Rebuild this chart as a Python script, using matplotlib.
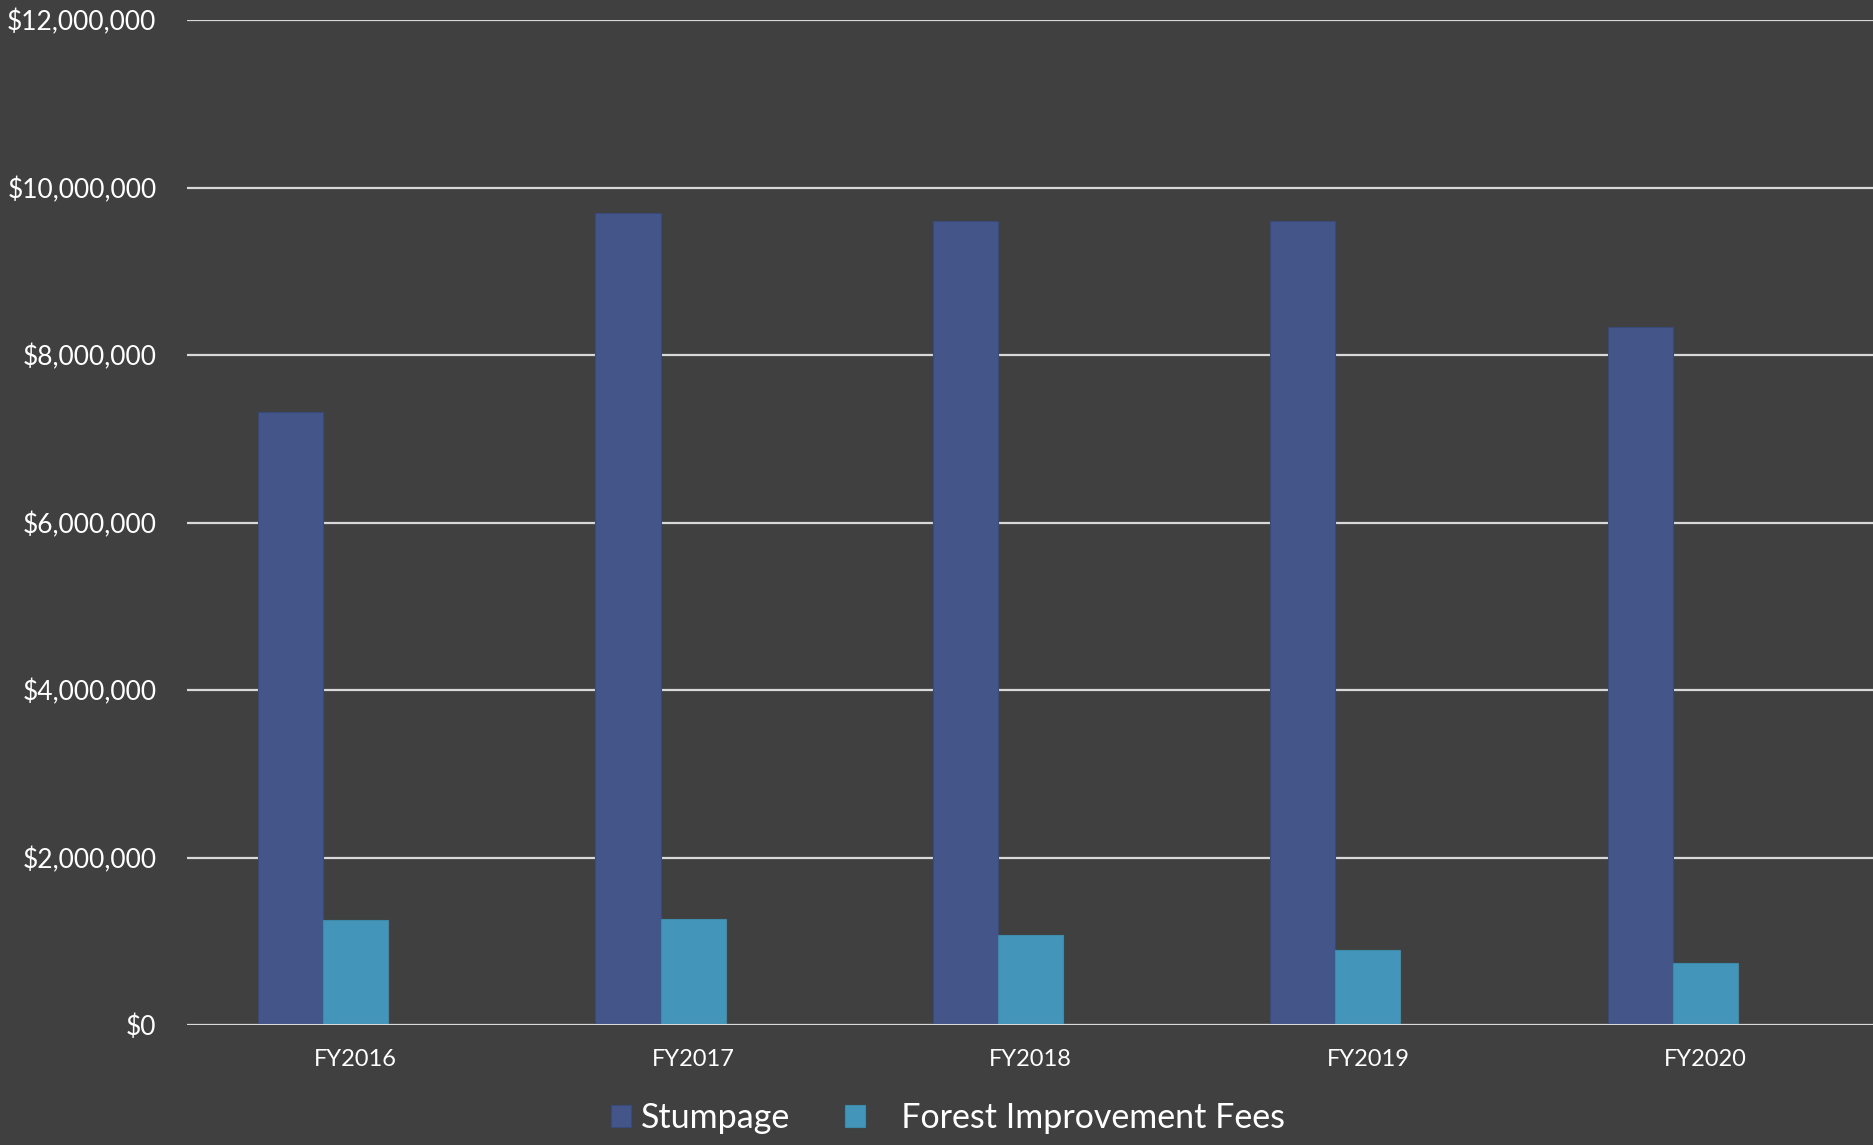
import numpy as np
import matplotlib
matplotlib.use("Agg")
import matplotlib.pyplot as plt
from matplotlib.ticker import FuncFormatter

years = ["FY2016", "FY2017", "FY2018", "FY2019", "FY2020"]
stumpage = [7320000, 9690000, 9600000, 9600000, 8330000]
fif = [1250000, 1270000, 1080000, 900000, 740000]

bg = "#404040"
c_stump = "#435589"
c_fif = "#4395B9"

plt.rcParams['font.family'] = ['Lato', 'DejaVu Sans']

fig = plt.figure(figsize=(18.74, 11.45), dpi=100, facecolor=bg)
ax = fig.add_axes([187 / 1874, 1 - 1025 / 1145, 1 - 187 / 1874, (1025 - 20) / 1145])
ax.set_facecolor(bg)

x = np.arange(len(years))
w = 0.193
ax.bar(x - w, stumpage, w, color=c_stump, edgecolor="#3a4a78", linewidth=0.8, label="Stumpage", zorder=3)
ax.bar(x, fif, w, color=c_fif, edgecolor="#3d8aaa", linewidth=0.8, label="   Forest Improvement Fees", zorder=3)

ax.set_xlim(-0.5, len(years) - 0.5)
ax.set_ylim(0, 12000000)
ax.set_yticks(np.arange(0, 12000001, 2000000))
ax.yaxis.set_major_formatter(FuncFormatter(lambda v, p: "${:,.0f}".format(v)))
ax.grid(axis="y", color="#d9d9d9", linewidth=1.6, zorder=1)
ax.axhline(0, color="#d9d9d9", linewidth=2.2, zorder=4)
for s in ax.spines.values():
    s.set_visible(False)

ax.set_xticks(x)
ax.set_xticklabels(years)
ax.tick_params(axis="y", length=0, pad=22, labelsize=19, labelcolor="white")
ax.tick_params(axis="x", length=0, pad=17, labelsize=17, labelcolor="white")

leg = fig.legend(loc="center", bbox_to_anchor=(948 / 1874, 1 - 1118 / 1145), ncol=2,
                 frameon=False, fontsize=24.5, labelcolor="white",
                 handlelength=0.6, handleheight=0.6, handletextpad=0.3, columnspacing=1.6)

fig.savefig("out.png", dpi=100, facecolor=bg)
